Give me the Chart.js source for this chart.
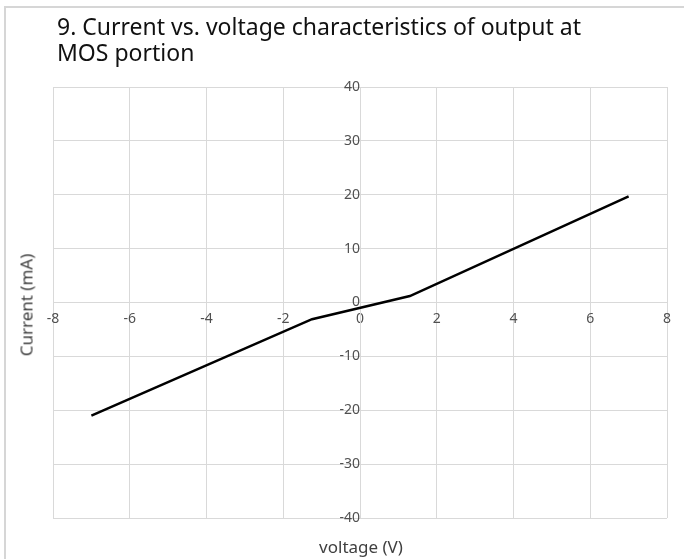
<!DOCTYPE html>
<html>
<head>
<meta charset="utf-8">
<script src="https://cdn.jsdelivr.net/npm/chart.js@4.4.0/dist/chart.umd.min.js"></script>
<style>
  html, body { margin: 0; padding: 0; background: #fff; }
  #wrap { position: relative; width: 684px; height: 559px; overflow: hidden; }
  #frame { position: absolute; left: 4px; top: 6px; right: -10px; bottom: -10px;
           border-top: 2px solid #d6d6d6; border-left: 2px solid #d6d6d6; }
  canvas { position: absolute; left: 0; top: 0; }
  .txt { position: absolute; font-family: "Noto Sans", "Open Sans", sans-serif; white-space: nowrap; }
  #title { left: 57px; top: 13px; font-size: 23px; line-height: 26px; color: #111111; }
  #xt { left: 361px; top: 546px; transform: translate(-50%, -50%); font-size: 17px; color: #404040; }
  #yt { left: 26px; top: 305px; transform: translate(-50%, -50%) rotate(-90deg); font-size: 17px; color: #404040; }
</style>
</head>
<body>
<div id="wrap">
  <div id="frame"></div>
  <canvas id="c" width="684" height="559"></canvas>
  <div id="title" class="txt">9. Current vs. voltage characteristics of output at<br>MOS portion</div>
  <div id="xt" class="txt">voltage (V)</div>
  <div id="yt" class="txt">Current (mA)</div>
</div>
<script>
const voltage = [-7, -1.25, 1.3, 7];
const current = [-21, -3.1, 1.2, 19.7];
const xTicks = [-8, -6, -4, -2, 0, 2, 4, 6, 8];
const yTicks = [-40, -30, -20, -10, 0, 10, 20, 30, 40];

const points = voltage.map((v, i) => ({ x: v, y: current[i] }));
const gridColor = '#d9d9d9';
const tickFont = { family: '"Noto Sans", "Open Sans", sans-serif', size: 14 };

new Chart(document.getElementById('c'), {
  type: 'scatter',
  data: {
    datasets: [{
      data: points,
      showLine: true,
      borderColor: '#000000',
      borderWidth: 2.5,
      pointRadius: 0,
      fill: false,
      tension: 0
    }]
  },
  options: {
    responsive: false,
    animation: false,
    devicePixelRatio: 1,
    layout: { padding: { left: 53, right: 17, top: 87, bottom: 41 } },
    plugins: { legend: { display: false }, tooltip: { enabled: false } },
    scales: {
      x: {
        type: 'linear',
        position: { y: 0 },
        min: -8, max: 8,
        afterFit: s => { s.height = 0; },
        afterBuildTicks: s => { s.ticks = xTicks.map(v => ({ value: v })); },
        grid: { color: gridColor, drawTicks: false },
        border: { color: gridColor },
        ticks: { color: '#505050', font: tickFont, padding: 8 }
      },
      y: {
        type: 'linear',
        position: { x: 0 },
        min: -40, max: 40,
        afterFit: s => { s.width = 0; },
        afterBuildTicks: s => { s.ticks = yTicks.map(v => ({ value: v })); },
        grid: { color: gridColor, drawTicks: false },
        border: { color: gridColor },
        ticks: { color: '#505050', font: tickFont, padding: 9 }
      }
    }
  }
});
</script>
</body>
</html>
